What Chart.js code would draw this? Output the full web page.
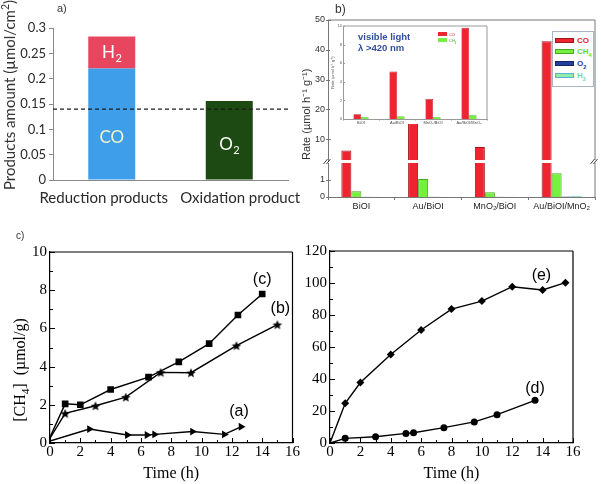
<!DOCTYPE html>
<html>
<head>
<meta charset="utf-8">
<script src="https://cdn.jsdelivr.net/npm/chart.js@4.4.1/dist/chart.umd.min.js"></script>
<style>
  body { margin: 0; background: #fff; }
  #fig { position: relative; width: 601px; height: 484px; overflow: hidden; background: #fff; }
  #fig canvas { position: absolute; }
  .lbl { position: absolute; white-space: nowrap; line-height: 1; }
  .rot { position: absolute; white-space: nowrap; line-height: 1; transform: translate(-50%, -50%) rotate(-90deg); }
  .key { position: absolute; left: 552px; top: 31px; width: 42px; height: 56px; border: 1px solid #a9b4c2; box-sizing: border-box; background: #fff; }
  .key div { position: absolute; }
  .key .sw { left: 2px; width: 19px; height: 5px; box-sizing: border-box; }
  .key .tx { left: 24px; font: bold 8px "Liberation Sans", Arial, sans-serif; line-height: 1; }
  sub, sup { font-size: 70%; line-height: 0; }
</style>
</head>
<body>
<div id="fig">
  <canvas id="chartA" width="300" height="215" style="left:0;top:0"></canvas>
  <canvas id="chartBTop" width="301" height="170" style="left:300px;top:0"></canvas>
  <canvas id="chartBBot" width="301" height="65" style="left:300px;top:150px"></canvas>
  <canvas id="chartInset" width="160" height="102" style="left:330px;top:22px"></canvas>
  <canvas id="chartC1" width="300" height="254" style="left:0;top:230px"></canvas>
  <canvas id="chartC2" width="301" height="254" style="left:300px;top:230px"></canvas>

  <div class="lbl" style="left:57px;top:2px;font:11px 'Liberation Sans',sans-serif;color:#333">a)</div>
  <div class="lbl" style="left:335px;top:2px;font:12px 'Liberation Sans',sans-serif;color:#333">b)</div>
  <div class="lbl" style="left:16px;top:230px;font:10px 'Liberation Sans',sans-serif;color:#333">c)</div>

  <div class="rot" style="left:9px;top:95px;font:15px Lato,sans-serif;color:#333">Products amount (µmol/cm<sup>2</sup>)</div>
  <div class="rot" style="left:20px;top:370px;font:16px 'Liberation Serif',serif;color:#000">[CH<sub>4</sub>]&nbsp; (µmol/g)</div>

  <div class="lbl" style="left:358px;top:31px;font:bold 9.5px 'Liberation Sans',sans-serif;color:#2f4f9f">visible light</div>
  <div class="lbl" style="left:358px;top:42px;font:bold 9.5px 'Liberation Sans',sans-serif;color:#2f4f9f">λ &gt;420 nm</div>
  <div class="lbl" style="left:438px;top:32px;width:9px;height:4px;background:#ee2430"></div>
  <div class="lbl" style="left:449px;top:32px;font:4px 'Liberation Sans',sans-serif;color:#d02030">CO</div>
  <div class="lbl" style="left:438px;top:38px;width:9px;height:4px;background:#76f03e"></div>
  <div class="lbl" style="left:449px;top:38px;font:4px 'Liberation Sans',sans-serif;color:#40b020">CH<sub>4</sub></div>

  <div class="key">
    <div class="sw" style="top:6px;background:#ee2430;border:1px solid #a0141c"></div>
    <div class="tx" style="top:5px;color:#e01c2a">CO</div>
    <div class="sw" style="top:17px;background:#76f03e;border:1px solid #48a824"></div>
    <div class="tx" style="top:16px;color:#62d82c">CH<sub>4</sub></div>
    <div class="sw" style="top:29px;background:#223f9c;border:1px solid #122866"></div>
    <div class="tx" style="top:28px;color:#1a3a90">O<sub>2</sub></div>
    <div class="sw" style="top:41px;background:#92eaa6;border:1px solid #4fb6d8"></div>
    <div class="tx" style="top:40px;color:#7ad89a">H<sub>2</sub></div>
  </div>
</div>

<script>
// a) products amount
const aCats = ['Reduction products', 'Oxidation product'];
const aCO = [0.22, null];
const aH2 = [0.063, null];
const aO2 = [null, 0.156];
const aDashLevel = 0.14;

// b) rates, main plot (broken axis) and inset
const bCats = ['BiOI', 'Au/BiOI', 'MnO₂/BiOI', 'Au/BiOI/MnO₂'];
const bCO = [6.2, 15.4, 7.4, 42.9];
const bCH4 = [0.34, 1.06, 0.28, 1.4];
const bO2 = [0.01, 0.01, 0.01, 0.03];
const bH2 = [0.01, 0.01, 0.01, 0.07];
const bUpperTicks = [10, 20, 30, 40, 50];
const bLowerTicks = [0, 1];
const insetCO = [0.5, 5.1, 2.15, 9.8];
const insetCH4 = [0.22, 0.3, 0.22, 0.4];

// c) CH4 vs time
const cTimeA = [0, 2.6, 5.1, 6.4, 6.9, 9.4, 11.5, 12.6];
const cValA = [0.1, 0.73, 0.42, 0.42, 0.45, 0.6, 0.45, 0.85];
const cTimeB = [0, 1, 3, 5, 7.3, 9.3, 12.3, 15];
const cValB = [0.25, 1.55, 1.95, 2.4, 3.7, 3.68, 5.1, 6.2];
const cTimeC = [0, 1, 2, 4, 6.5, 8.5, 10.5, 12.4, 14];
const cValC = [0.3, 2.05, 2.0, 2.8, 3.45, 4.25, 5.2, 6.7, 7.8];
const dTime = [0, 1, 3, 5, 5.5, 7.5, 9.5, 11, 13.5];
const dVal = [0, 2.9, 3.9, 6.0, 6.4, 9.6, 13.2, 17.7, 26.7];
const eTime = [0, 1, 2, 4, 6, 8, 10, 12, 14, 15.5];
const eVal = [0, 24.8, 37.8, 55.3, 70.6, 83.7, 88.7, 97.7, 95.6, 100.2];

Chart.defaults.font.family = '"Liberation Sans", Arial, sans-serif';
Chart.defaults.animation = false;
Chart.defaults.responsive = false;
Chart.defaults.plugins.legend.display = false;
Chart.defaults.plugins.tooltip.enabled = false;

const fixW = w => s => { s.width = w; };
const fixH = h => s => { s.height = h; };
const onlyTicks = list => s => { s.ticks = list.map(v => ({ value: v })); };

// box lines round the plot area
const frame = {
  id: 'frame',
  afterDraw(chart, args, o) {
    const { ctx, chartArea: a } = chart;
    ctx.save();
    ctx.strokeStyle = o.color || '#000';
    ctx.lineWidth = o.width || 1;
    ctx.beginPath();
    const s = o.sides || '';
    if (s.includes('t')) { ctx.moveTo(a.left, a.top); ctx.lineTo(a.right, a.top); }
    if (s.includes('r')) { ctx.moveTo(a.right, a.top); ctx.lineTo(a.right, a.bottom); }
    ctx.stroke();
    ctx.restore();
  }
};

// tick marks pointing into the plot
const innerTicks = {
  id: 'innerTicks',
  afterDraw(chart, args, o) {
    if (!o.axes) return;
    const { ctx, chartArea: a } = chart;
    ctx.save();
    ctx.strokeStyle = o.color || '#000';
    ctx.lineWidth = 1;
    o.axes.forEach(id => {
      const sc = chart.scales[id];
      const vals = sc.ticks.map(t => t.value);
      const marks = [];
      vals.forEach((v, i) => {
        marks.push([v, o.major]);
        if (o.minor && i < vals.length - 1) marks.push([(v + vals[i + 1]) / 2, o.minor]);
      });
      marks.forEach(([v, len]) => {
        const p = Math.round(sc.getPixelForValue(v)) + 0.5;
        ctx.beginPath();
        if (sc.isHorizontal()) { ctx.moveTo(p, a.bottom); ctx.lineTo(p, a.bottom - len); }
        else { ctx.moveTo(a.left - (o.out || 0), p); ctx.lineTo(a.left + len, p); }
        ctx.stroke();
      });
    });
    ctx.restore();
  }
};

// a): dashed level line, names written in the bars, category names
const dashLine = {
  id: 'dashLine',
  afterDatasetsDraw(chart, args, o) {
    const { ctx, chartArea: a } = chart;
    const y = chart.scales.y.getPixelForValue(o.value);
    ctx.save();
    ctx.setLineDash([4, 3]);
    ctx.strokeStyle = '#1a1a1a';
    ctx.lineWidth = 1.3;
    ctx.beginPath();
    ctx.moveTo(a.left, y);
    ctx.lineTo(a.right, y);
    ctx.stroke();
    ctx.restore();
  }
};

function subText(ctx, main, sub, cx, cy, size, color) {
  ctx.font = size + 'px Lato, sans-serif';
  const w1 = ctx.measureText(main).width;
  ctx.font = (size * 0.65) + 'px Lato, sans-serif';
  const w2 = sub ? ctx.measureText(sub).width : 0;
  const x0 = cx - (w1 + w2) / 2;
  ctx.fillStyle = color;
  ctx.textBaseline = 'middle';
  ctx.textAlign = 'left';
  ctx.font = size + 'px Lato, sans-serif';
  ctx.fillText(main, x0, cy);
  if (sub) {
    ctx.font = (size * 0.65) + 'px Lato, sans-serif';
    ctx.fillText(sub, x0 + w1 + 0.5, cy + size * 0.35);
  }
}

const barTags = {
  id: 'barTags',
  afterDatasetsDraw(chart, args, o) {
    const ctx = chart.ctx;
    ctx.save();
    o.items.forEach(it => {
      const meta = chart.getDatasetMeta(it.ds);
      const vals = chart.data.datasets[it.ds].data;
      meta.data.forEach((el, i) => {
        if (vals[i] == null) return;
        const y = el.y + (el.base - el.y) * it.f;
        subText(ctx, it.text, it.sub, el.x, y, 17, it.color);
      });
    });
    ctx.restore();
  }
};

// category names sit a little off the bar centres in the original
const catNames = {
  id: 'catNames',
  afterDraw(chart, args, o) {
    const { ctx, chartArea: a } = chart;
    const xs = chart.scales.x;
    ctx.save();
    ctx.font = '15px Lato, sans-serif';
    ctx.fillStyle = '#2a2a2a';
    ctx.textAlign = 'center';
    ctx.textBaseline = 'middle';
    chart.data.labels.forEach((name, i) => {
      ctx.fillText(name, xs.getPixelForValue(i) + o.shift[i], a.bottom + o.gap);
    });
    ctx.restore();
  }
};

new Chart(document.getElementById('chartA'), {
  type: 'bar',
  data: {
    labels: aCats,
    datasets: [
      { label: 'CO', data: aCO, backgroundColor: '#3f9ee9' },
      { label: 'H2', data: aH2, backgroundColor: '#e8465e' },
      { label: 'O2', data: aO2, backgroundColor: '#1d4912' }
    ]
  },
  options: {
    layout: { padding: { left: 0, right: 12, top: 28, bottom: 0 } },
    datasets: { bar: { barPercentage: 0.4, categoryPercentage: 1 } },
    plugins: {
      dashLine: { value: aDashLevel },
      catNames: { shift: [-8, 11], gap: 18 },
      barTags: { items: [
        { ds: 0, text: 'CO', f: 0.62, color: '#eef4cc' },
        { ds: 1, text: 'H', sub: '2', f: 0.5, color: '#fff' },
        { ds: 2, text: 'O', sub: '2', f: 0.56, color: '#fff' }
      ] }
    },
    scales: {
      x: {
        stacked: true,
        grid: { display: false, drawTicks: false },
        border: { color: '#8a8a8a' },
        ticks: { display: false },
        afterFit: fixH(35)
      },
      y: {
        stacked: true, min: 0, max: 0.3,
        grid: { drawOnChartArea: false, tickLength: 4, color: '#8a8a8a' },
        border: { color: '#8a8a8a' },
        ticks: { stepSize: 0.05, font: { family: 'Lato', size: 13 }, color: '#2a2a2a', padding: 3,
          callback: v => String(+v.toFixed(2)) },
        afterFit: fixW(53)
      }
    }
  },
  plugins: [dashLine, barTags, catNames]
});

function bSets(co, ch4, o2, h2) {
  return [
    { label: 'CO', data: co, backgroundColor: '#ee2430', borderColor: '#a0141c', borderWidth: 1 },
    { label: 'CH4', data: ch4, backgroundColor: '#76f03e', borderColor: '#48a824', borderWidth: 1 },
    { label: 'O2', data: o2, backgroundColor: '#223f9c', borderColor: '#122866', borderWidth: 1 },
    { label: 'H2', data: h2, backgroundColor: '#92eaa6', borderColor: '#4fb6d8', borderWidth: 1 }
  ];
}

const bTickFont = { size: 9 };
const bGray = '#777';

new Chart(document.getElementById('chartBTop'), {
  type: 'bar',
  data: { labels: bCats, datasets: bSets(bCO, bCH4, bO2, bH2) },
  options: {
    layout: { padding: { left: 0, right: 6, top: 20, bottom: 10 } },
    datasets: { bar: { barPercentage: 1, categoryPercentage: 0.6 } },
    plugins: {
      frame: { sides: 'tr', color: bGray },
      innerTicks: { axes: ['y'], major: 3, out: 2, color: bGray }
    },
    scales: {
      x: { display: false },
      y: {
        min: 3, max: 50,
        afterBuildTicks: onlyTicks(bUpperTicks),
        grid: { display: false, drawTicks: false },
        border: { color: bGray },
        title: { display: true, text: 'Rate (µmol h⁻¹ g⁻¹)', align: 'start', font: { size: 11 }, color: '#333', padding: 0 },
        ticks: { font: bTickFont, color: '#333', padding: 3, autoSkip: false },
        afterFit: fixW(28)
      }
    }
  },
  plugins: [frame, innerTicks]
});

// the // marks where the value axis is cut
const axisBreak = {
  id: 'axisBreak',
  afterDraw(chart) {
    const { ctx, chartArea: a } = chart;
    ctx.save();
    ctx.strokeStyle = '#444';
    ctx.lineWidth = 1;
    [a.left, a.right].forEach(x => {
      [-1.5, 1.5].forEach(d => {
        ctx.beginPath();
        ctx.moveTo(x - 3 + d, a.top + 1);
        ctx.lineTo(x + 1 + d, a.top - 4);
        ctx.stroke();
      });
    });
    ctx.restore();
  }
};

new Chart(document.getElementById('chartBBot'), {
  type: 'bar',
  data: { labels: bCats, datasets: bSets(bCO, bCH4, bO2, bH2) },
  options: {
    layout: { padding: { left: 0, right: 6, top: 13, bottom: 0 } },
    datasets: { bar: { barPercentage: 1, categoryPercentage: 0.6 } },
    plugins: {
      frame: { sides: 'r', color: bGray },
      innerTicks: { axes: ['y'], major: 3, out: 2, color: bGray }
    },
    scales: {
      x: {
        grid: { drawOnChartArea: false, tickLength: 3, color: bGray },
        border: { color: bGray },
        ticks: { font: bTickFont, color: '#222', padding: 1, maxRotation: 0, autoSkip: false },
        afterFit: fixH(18)
      },
      y: {
        min: 0, max: 2,
        afterBuildTicks: onlyTicks(bLowerTicks),
        grid: { display: false, drawTicks: false },
        border: { color: bGray },
        ticks: { font: bTickFont, color: '#333', padding: 3, autoSkip: false },
        afterFit: fixW(28)
      }
    }
  },
  plugins: [frame, innerTicks, axisBreak]
});

const whiteBg = {
  id: 'whiteBg',
  beforeDraw(chart) {
    const ctx = chart.ctx;
    ctx.save();
    ctx.fillStyle = '#fff';
    ctx.fillRect(0, 0, chart.width, chart.chartArea.bottom + 5);
    ctx.restore();
  }
};

new Chart(document.getElementById('chartInset'), {
  type: 'bar',
  data: {
    labels: bCats,
    datasets: [
      { label: 'CO', data: insetCO, backgroundColor: '#ee2430', borderColor: '#b01820', borderWidth: 0.6 },
      { label: 'CH4', data: insetCH4, backgroundColor: '#76f03e', borderColor: '#48a824', borderWidth: 0.6 }
    ]
  },
  options: {
    layout: { padding: { left: 0, right: 3, top: 4, bottom: 0 } },
    datasets: { bar: { barPercentage: 1, categoryPercentage: 0.42 } },
    plugins: {
      frame: { sides: 'tr', color: '#999' },
      innerTicks: { axes: ['y'], major: 2, color: '#999' }
    },
    scales: {
      x: {
        grid: { drawOnChartArea: false, tickLength: 1.5, color: '#999' },
        border: { color: '#999' },
        ticks: { font: { size: 4 }, color: '#444', padding: 0, maxRotation: 0, autoSkip: false },
        afterFit: fixH(5)
      },
      y: {
        min: 0, max: 10,
        grid: { display: false, drawTicks: false },
        border: { color: '#999' },
        title: { display: true, text: 'Rate (µmol h⁻¹ g⁻¹)', font: { size: 4 }, color: '#555', padding: 0 },
        ticks: { stepSize: 2, font: { size: 4 }, color: '#555', padding: 1 },
        afterFit: fixW(13)
      }
    }
  },
  plugins: [whiteBg, frame, innerTicks]
});

// filled five point star for series (b)
function starMark(r) {
  const c = document.createElement('canvas');
  const s = Math.ceil(r * 2 + 2);
  c.width = c.height = s;
  const g = c.getContext('2d');
  g.translate(s / 2, s / 2 + r * 0.1);
  g.beginPath();
  for (let i = 0; i < 10; i++) {
    const rr = i % 2 ? r * 0.45 : r;
    const ang = -Math.PI / 2 + i * Math.PI / 5;
    g.lineTo(rr * Math.cos(ang), rr * Math.sin(ang));
  }
  g.closePath();
  g.fillStyle = '#000';
  g.fill();
  return c;
}

function lineSet(times, vals, style, radius, rotation) {
  return {
    data: times.map((t, i) => ({ x: t, y: vals[i] })),
    borderColor: '#000', borderWidth: 1.4,
    pointStyle: style,
    pointRadius: times.map((t, i) => (i === 0 ? 0 : radius)),
    pointRotation: rotation || 0,
    pointBackgroundColor: '#000', pointBorderColor: '#000', pointBorderWidth: 0,
    tension: 0
  };
}

// (a) (b) ... written next to the last point of each curve
const seriesTags = {
  id: 'seriesTags',
  afterDatasetsDraw(chart, args, o) {
    const ctx = chart.ctx;
    ctx.save();
    ctx.font = '16px "Liberation Sans", Arial, sans-serif';
    ctx.fillStyle = '#000';
    ctx.textAlign = 'center';
    ctx.textBaseline = 'middle';
    o.items.forEach(it => {
      const pts = chart.getDatasetMeta(it.ds).data;
      const last = pts[pts.length - 1];
      ctx.fillText(it.text, last.x + it.dx, last.y + it.dy);
    });
    ctx.restore();
  }
};

const serif = '"Liberation Serif", "Times New Roman", serif';

function timeChart(id, sets, yMax, yStep, yWidth, pad, tags) {
  return new Chart(document.getElementById(id), {
    type: 'line',
    data: { datasets: sets },
    options: {
      layout: { padding: pad },
      plugins: {
        frame: { sides: 'tr', color: '#000', width: 1.2 },
        innerTicks: { axes: ['x', 'y'], major: 5, minor: 3, color: '#000' },
        seriesTags: { items: tags }
      },
      scales: {
        x: {
          type: 'linear', min: 0, max: 16,
          grid: { display: false, drawTicks: false },
          border: { color: '#000', width: 1.2 },
          ticks: { stepSize: 2, font: { family: serif, size: 15 }, color: '#000', padding: 0 },
          title: { display: true, text: 'Time (h)', font: { family: serif, size: 16 }, color: '#000', padding: { top: 0, bottom: 1 } },
          afterFit: fixH(41)
        },
        y: {
          min: 0, max: yMax,
          grid: { display: false, drawTicks: false },
          border: { color: '#000', width: 1.2 },
          ticks: { stepSize: yStep, font: { family: serif, size: 15 }, color: '#000', padding: 3 },
          afterFit: fixW(yWidth)
        }
      }
    },
    plugins: [frame, innerTicks, seriesTags]
  });
}

timeChart('chartC1', [
  lineSet(cTimeA, cValA, 'triangle', 4.5, 90),
  lineSet(cTimeB, cValB, starMark(5), 5),
  lineSet(cTimeC, cValC, 'rect', 4.7)
], 10, 2, 50, { left: 0, right: 7, top: 22, bottom: 0 }, [
  { ds: 0, text: '(a)', dx: -2, dy: -15 },
  { ds: 1, text: '(b)', dx: 3, dy: -16 },
  { ds: 2, text: '(c)', dx: 0, dy: -14 }
]);

timeChart('chartC2', [
  lineSet(dTime, dVal, 'circle', 3.5),
  lineSet(eTime, eVal, 'rectRot', 4)
], 120, 20, 30, { left: 0, right: 28, top: 21, bottom: 0 }, [
  { ds: 0, text: '(d)', dx: 0, dy: -12 },
  { ds: 1, text: '(e)', dx: -24, dy: -7 }
]);
</script>
</body>
</html>
